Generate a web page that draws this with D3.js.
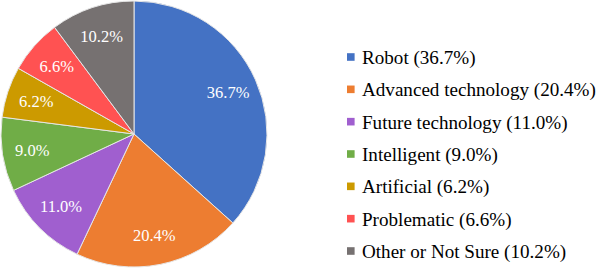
<!DOCTYPE html>
<html>
<head>
<meta charset="utf-8">
<script src="https://cdn.jsdelivr.net/npm/d3@7"></script>
<style>body{margin:0}</style>
</head>
<body>
<script>
// data
var categories = ["Robot", "Advanced technology", "Future technology", "Intelligent", "Artificial", "Problematic", "Other or Not Sure"];
var values = [36.7, 20.4, 11.0, 9.0, 6.2, 6.6, 10.2];
var colors = ["#4472c4", "#ed7d31", "#a05fcf", "#70ad47", "#cc9a00", "#ff5252", "#767171"];

var width = 598, height = 268;
var cx = 134, cy = 134, radius = 133;

var svg = d3.select("body").append("svg")
  .attr("width", width)
  .attr("height", height)
  .attr("font-family", "Liberation Serif");

var data = categories.map(function(c, i) { return {name: c, value: values[i], color: colors[i]}; });

var pie = d3.pie().sort(null).value(function(d) { return d.value; });
var arc = d3.arc().innerRadius(0).outerRadius(radius);
var labelArc = d3.arc().innerRadius(103).outerRadius(103);

var g = svg.append("g").attr("transform", "translate(" + cx + "," + cy + ")");
var arcs = pie(data);

g.selectAll("path").data(arcs).enter().append("path")
  .attr("d", arc)
  .attr("fill", function(d) { return d.data.color; })
  .attr("stroke", "#e6e6e6")
  .attr("stroke-width", 1);

g.selectAll("text").data(arcs).enter().append("text")
  .attr("transform", function(d) { return "translate(" + labelArc.centroid(d) + ")"; })
  .attr("text-anchor", "middle")
  .attr("dy", "0.35em")
  .attr("fill", "#fff")
  .attr("font-family", "Liberation Serif")
  .attr("font-size", 16.5)
  .text(function(d) { return d.data.value.toFixed(1) + "%"; });

// legend
var legendY = d3.scalePoint().domain(categories).range([57, 251]);
var legend = svg.append("g").selectAll("g").data(data).enter().append("g")
  .attr("transform", function(d) { return "translate(347," + legendY(d.name) + ")"; });

legend.append("rect")
  .attr("x", 0).attr("y", -3.8)
  .attr("width", 7.6).attr("height", 7.6)
  .attr("fill", function(d) { return d.color; });

legend.append("text")
  .attr("x", 15)
  .attr("y", 7)
  .attr("fill", "#000")
  .attr("font-family", "Liberation Serif")
  .attr("font-size", 19.1)
  .text(function(d) { return d.name + " (" + d.value.toFixed(1) + "%)"; });
</script>
</body>
</html>
